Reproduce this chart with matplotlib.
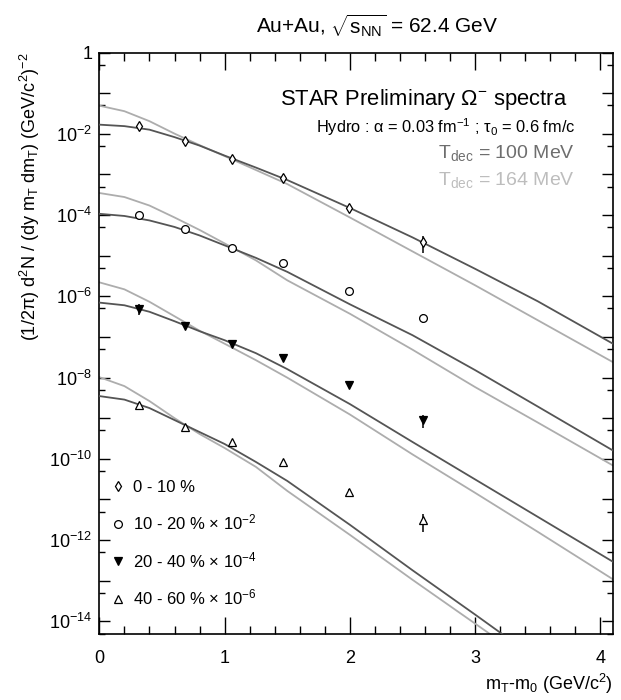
import numpy as np
import matplotlib
matplotlib.use('Agg')
import matplotlib.pyplot as plt
from matplotlib.ticker import FixedLocator, MultipleLocator, FuncFormatter, NullFormatter

plt.rcParams['font.family'] = ['Liberation Sans', 'DejaVu Sans']
plt.rcParams['mathtext.fontset'] = 'custom'
plt.rcParams['mathtext.rm'] = 'Liberation Sans'
plt.rcParams['mathtext.it'] = 'Liberation Sans:italic'
plt.rcParams['mathtext.bf'] = 'Liberation Sans:bold'

# STAR Omega- points, mT-m0 in GeV/c^2
mt_pts = [0.32, 0.68, 1.06, 1.47, 1.99, 2.58]
cent_0_10 = [1.56e-2, 6.78e-3, 2.45e-3, 8.04e-4, 1.51e-4, 2.15e-5]
cent_10_20 = [9.91e-5, 4.49e-5, 1.53e-5, 6.45e-6, 1.35e-6, 2.99e-7]
cent_20_40 = [4.98e-7, 1.83e-7, 6.87e-8, 2.94e-8, 6.50e-9, 8.97e-10]
cent_40_60 = [2.10e-9, 6.15e-10, 2.54e-10, 8.49e-11, 1.56e-11, 3.05e-12]
# relative errors
rel_0_10 = [0.08, 0.06, 0.06, 0.07, 0.10, 0.45]
rel_10_20 = [0.08, 0.06, 0.06, 0.07, 0.10, 0.25]
rel_20_40 = [0.30, 0.06, 0.06, 0.08, 0.12, 0.35]
rel_40_60 = [0.10, 0.06, 0.07, 0.10, 0.15, 0.47]

# hydro curves
hx = [0, 0.2, 0.4, 0.6, 0.8, 1.0, 1.25, 1.5, 2.0, 2.5, 3.0, 3.5, 4.1]
hx_per_100 = [0, 0.2, 0.4, 0.6, 0.8, 1.0, 1.25, 1.5, 2.0, 2.5, 3.0, 3.3]
hx_per_164 = [0, 0.2, 0.4, 0.6, 0.8, 1.0, 1.25, 1.5, 2.0, 2.5, 3.0, 3.25]

t100_0_10 = [1.675e-2, 1.54e-2, 1.26e-2, 8.26e-3, 5.11e-3, 2.90e-3, 1.47e-3,
             7.26e-4, 1.49e-4, 2.81e-5, 4.73e-6, 7.52e-7, 6.79e-8]
t164_0_10 = [4.91e-2, 3.59e-2, 2.04e-2, 1.007e-2, 5.25e-3, 2.82e-3, 1.28e-3,
             5.78e-4, 8.7e-5, 1.27e-5, 1.86e-6, 2.57e-7, 2.39e-8]
t100_10_20 = [1.07e-4, 9.47e-5, 7.35e-5, 5.08e-5, 3.14e-5, 1.79e-5, 8.81e-6,
              3.99e-6, 6.34e-7, 1.10e-7, 1.52e-8, 1.93e-9, 1.60e-10]
t164_10_20 = [3.48e-4, 2.77e-4, 1.71e-4, 8.7e-5, 4.29e-5, 2.00e-5, 7.64e-6,
              2.47e-6, 3.71e-7, 4.84e-8, 5.81e-9, 7.80e-10, 6.84e-11]
t100_20_40 = [6.98e-7, 6.0e-7, 4.15e-7, 2.43e-7, 1.38e-7, 8.28e-8, 3.97e-8,
              1.61e-8, 2.22e-9, 2.59e-10, 3.10e-11, 3.72e-12, 2.92e-13]
t164_20_40 = [2.20e-6, 1.48e-6, 7.31e-7, 3.22e-7, 1.42e-7, 6.79e-8, 2.67e-8,
              9.93e-9, 1.23e-9, 1.28e-10, 1.45e-11, 1.59e-12, 1.08e-13]
t100_40_60 = [3.49e-9, 2.86e-9, 1.77e-9, 8.97e-10, 4.55e-10, 2.31e-10, 8.34e-11,
              2.85e-11, 2.37e-12, 1.80e-13, 1.46e-14, 3.16e-15]
t164_40_60 = [1.02e-8, 6.14e-9, 2.63e-9, 1.00e-9, 4.07e-10, 1.84e-10, 6.30e-11,
              1.62e-11, 1.34e-12, 1.05e-13, 8.75e-15, 2.52e-15]

dark = '#555555'
light = '#adadad'

fig = plt.figure(figsize=(6.21, 7.0), dpi=100)
ax = fig.add_axes([0.160, 0.095, 0.827, 0.830])

for xs, ys in [(hx, t164_0_10), (hx, t164_10_20), (hx, t164_20_40), (hx_per_164, t164_40_60)]:
    ax.plot(xs, ys, color=light, lw=1.3, zorder=2)
for xs, ys in [(hx, t100_0_10), (hx, t100_10_20), (hx, t100_20_40), (hx_per_100, t100_40_60)]:
    ax.plot(xs, ys, color=dark, lw=1.3, zorder=3)

series = [
    (cent_0_10, rel_0_10, 'd', 'white', 5.0, '0 - 10 %'),
    (cent_10_20, rel_10_20, 'o', 'white', 5.6, r'10 - 20 % $\times$ $\mathregular{10^{-2}}$'),
    (cent_20_40, rel_20_40, 'v', 'black', 5.2, r'20 - 40 % $\times$ $\mathregular{10^{-4}}$'),
    (cent_40_60, rel_40_60, '^', 'white', 5.4, r'40 - 60 % $\times$ $\mathregular{10^{-6}}$'),
]
handles = []
labels = []
for ys, rel, mk, fc, ms, lab in series:
    ys = np.array(ys)
    err = ys * np.array(rel)
    ax.errorbar(mt_pts, ys, yerr=err, fmt='none', ecolor='black', elinewidth=1.1,
                capsize=0, zorder=4)
    h, = ax.plot(mt_pts, ys, mk, mfc=fc, mec='black', ms=ms, mew=0.9,
                 linestyle='none', zorder=5)
    handles.append(h)
    labels.append(lab)

ax.set_yscale('log')
ax.set_xlim(0, 4.1)
ax.set_ylim(5e-15, 1)

ax.xaxis.set_major_locator(MultipleLocator(1))
ax.xaxis.set_minor_locator(MultipleLocator(0.2))
ax.yaxis.set_major_locator(FixedLocator([10.0 ** k for k in range(-14, 1)]))
ax.yaxis.set_minor_locator(FixedLocator([5 * 10.0 ** k for k in range(-15, 0)]))
ax.yaxis.set_minor_formatter(NullFormatter())


def ylab(v, pos):
    e = int(round(np.log10(v)))
    if e == 0:
        return '1'
    if e % 2 == 0:
        return r'$\mathregular{10^{%d}}$' % e
    return ''


ax.yaxis.set_major_formatter(FuncFormatter(ylab))
ax.tick_params(which='both', direction='in', top=True, right=True, width=1.0, labelsize=13)
ax.tick_params(axis='x', which='major', length=12.5, pad=12)
ax.tick_params(axis='x', which='minor', length=5.5)
ax.tick_params(axis='y', which='major', length=7.7, pad=5)
ax.tick_params(axis='y', which='minor', length=4)
for s in ax.spines.values():
    s.set_linewidth(1.2)

ax.set_ylabel(r'(1/2π) $\mathregular{d^2N}$ / (dy $\mathregular{m_T}$ $\mathregular{dm_T}$) $\mathregular{(GeV/c^2)^{-2}}$',
              fontsize=13, loc='top')
ax.yaxis.set_label_coords(-0.112, 1.0)
ax.set_xlabel(r'$\mathregular{m_T}$-$\mathregular{m_0}$ $\mathregular{(GeV/c^2)}$', fontsize=13, loc='right')
ax.xaxis.set_label_coords(1.0, -0.066)

fig.text(0.608, 0.964, r'Au+Au, $\sqrt{\mathregular{s_{NN}}}$ = 62.4 GeV', fontsize=15,
         ha='center', va='center')

ax.text(0.912, 0.919, r'STAR Preliminary $\mathregular{Ω^{-}}$ spectra', transform=ax.transAxes,
        fontsize=15.8, ha='right', va='center')
ax.text(0.926, 0.872, r'Hydro : α = 0.03 $\mathregular{fm^{-1}}$ ; $\mathregular{τ_0}$ = 0.6 fm/c',
        transform=ax.transAxes, fontsize=11.8, ha='right', va='center')
ax.text(0.926, 0.827, r'$\mathregular{T_{dec}}$ = 100 MeV', transform=ax.transAxes,
        fontsize=14, ha='right', va='center', color='#6e6e6e')
ax.text(0.926, 0.781, r'$\mathregular{T_{dec}}$ = 164 MeV', transform=ax.transAxes,
        fontsize=14, ha='right', va='center', color='#bdbdbd')

ax.legend(handles, labels, loc='lower left', bbox_to_anchor=(0.024, 0.045), frameon=False,
          fontsize=12, handlelength=0.7, handletextpad=0.55, labelspacing=1.05,
          borderaxespad=0, borderpad=0)

fig.savefig('out.png', dpi=100)
